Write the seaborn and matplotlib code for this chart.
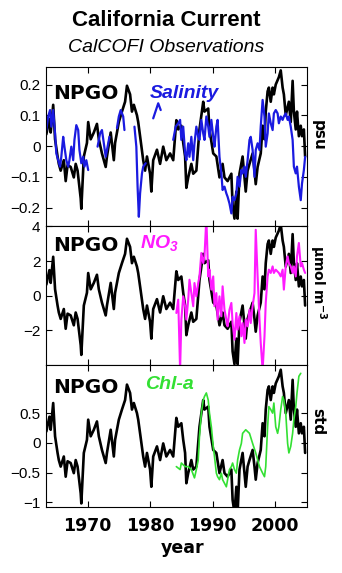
import numpy as np
import pandas as pd
import matplotlib
matplotlib.use("Agg")
import matplotlib.pyplot as plt
import seaborn as sns

# ---------------- data ----------------
npgo_year = [1963.4, 1963.9, 1964.1, 1964.5, 1964.8, 1965.2, 1965.4, 1965.7, 1966.2, 1966.5,
             1966.8, 1967.3, 1967.8, 1968.1, 1968.4, 1968.9, 1969.0, 1969.4, 1969.9, 1970.1,
             1970.5, 1971.0, 1971.5, 1971.8, 1972.3, 1972.9, 1973.1, 1973.7, 1974.2, 1974.4,
             1975.0, 1975.5, 1976.0, 1976.3, 1976.8, 1977.1, 1977.4, 1977.9, 1978.1, 1978.4,
             1978.9, 1979.2, 1979.5, 1980.0, 1980.2, 1980.5, 1981.1, 1981.6, 1982.1, 1982.6,
             1983.2, 1983.7, 1984.2, 1984.5, 1985.0, 1985.3, 1985.6, 1985.8, 1986.1, 1986.6,
             1986.9, 1987.4, 1987.9, 1988.5, 1988.7, 1989.3, 1989.5, 1990.1, 1990.6, 1991.1,
             1991.6, 1991.9, 1992.4, 1993.0, 1993.2, 1993.5, 1993.8, 1994.0, 1994.3, 1994.8,
             1995.3, 1995.6, 1995.9, 1996.4, 1996.7, 1996.9, 1997.2, 1997.7, 1998.0, 1998.3,
             1998.5, 1998.8, 1999.0, 1999.3, 1999.6, 1999.8, 2000.1, 2000.6, 2000.9, 2001.2,
             2001.4, 2001.7, 2002.2, 2002.5, 2002.8, 2003.0, 2003.3, 2003.5, 2003.8, 2004.1,
             2004.3, 2004.6, 2004.8]
npgo_std = [0.19, 0.44, 0.22, 0.67, 0.11, -0.17, -0.29, -0.40, -0.23, -0.57,
            -0.31, -0.34, -0.51, -0.29, -0.40, -0.85, -1.02, -0.17, 0.05, 0.39,
            0.11, 0.22, 0.36, 0.11, -0.12, -0.34, -0.17, 0.22, -0.23, 0.05,
            0.39, 0.56, 0.72, 0.98, 0.84, 0.56, 0.67, 0.50, 0.39, 0.16,
            -0.23, -0.40, -0.17, -0.45, -0.74, -0.23, -0.06, -0.29, -0.01, -0.23,
            -0.12, -0.23, 0.42, 0.27, 0.33, 0.05, -0.17, -0.68, -0.51, -0.29,
            -0.45, -0.40, 0.27, 0.72, 0.56, 0.61, 0.27, -0.12, -0.17, -0.51,
            -0.29, -0.51, -0.57, -0.45, -0.96, -1.18, -0.74, -1.18, -0.45, -0.17,
            -0.74, -0.40, -0.29, -0.12, -0.40, -0.62, -0.34, -0.12, 0.33, 0.11,
            0.56, 0.89, 0.95, 0.72, 0.95, 0.84, 1.00, 1.12, 1.23, 0.95,
            0.84, 0.50, 0.72, 0.39, 1.06, 0.56, 0.27, 0.56, 0.16, 0.33,
            0.16, 0.27, -0.17]
npgo_to_psu = 0.2
npgo_to_no3 = 3.35

nan = np.nan
sal_year = [1963.4, 1963.7, 1964.0, 1964.2, 1964.5, 1964.8, 1965.0, 1965.3, 1965.6, 1965.8,
            1966.1, 1966.3, 1966.6, 1966.9, 1967.1, 1967.4, 1967.7, 1967.9, 1968.2, 1968.5,
            1968.7, 1969.0, 1969.3, 1969.5, 1969.8, 1970.1, nan,
            1971.6, 1972.0, 1972.3, 1972.6, 1972.9, 1973.2, 1973.5, nan,
            1974.7, 1975.0, 1975.3, 1975.7, 1975.9, nan,
            1977.5, 1977.8, 1978.0, 1978.2, 1978.4, 1978.7, 1978.9, 1979.3, nan,
            1980.5, 1981.3, 1981.7, nan,
            1983.7, 1984.1, 1984.5, 1984.8, 1985.0, 1985.3, 1985.6, 1985.8, 1986.1, 1986.3,
            1986.6, 1986.9, 1987.1, 1987.4, 1987.7, 1987.9, 1988.2, 1988.5, 1988.7, 1989.0,
            1989.3, 1989.5, 1989.8, 1990.1, 1990.3, 1990.6, 1990.8, 1991.1, 1991.4, 1991.6,
            1991.9, 1992.2, 1992.4, 1992.7, 1993.0, 1993.2, 1993.5, 1993.8, 1994.0, 1994.3,
            1994.6, 1994.8, 1995.1, 1995.3, 1995.6, 1995.9, 1996.1, 1996.4, 1996.7, 1996.9,
            1997.2, 1997.5, 1997.7, 1998.0, 1998.3, 1998.5, 1998.8, 1999.0, 1999.3, 1999.6,
            1999.8, 2000.1, 2000.4, 2000.6, 2000.9, 2001.2, 2001.4, 2001.7, 2002.0, 2002.2,
            2002.5, 2002.8, 2003.0, 2003.3, 2003.5, 2003.8, 2004.1, 2004.3, 2004.6, 2004.8]
sal_psu = [0.052, 0.096, 0.117, 0.063, 0.117, 0.041, -0.024, -0.046, -0.067, -0.035,
           0.030, -0.002, -0.046, -0.067, -0.046, -0.002, -0.046, 0.020, 0.068, 0.052,
           -0.013, -0.056, -0.035, -0.067, -0.046, -0.078, nan,
           -0.002, 0.041, 0.052, 0.009, -0.035, -0.002, 0.030, nan,
           0.058, 0.096, 0.117, 0.096, 0.052, nan,
           0.063, -0.002, -0.132, -0.230, -0.154, -0.089, -0.067, -0.056, nan,
           0.090, 0.139, 0.117, nan,
           0.020, 0.063, 0.074, 0.085, 0.020, 0.063, -0.024, -0.046, 0.009, -0.035,
           0.030, -0.046, 0.009, 0.063, 0.030, 0.020, 0.085, 0.041, 0.020, 0.096,
           0.063, 0.030, 0.085, 0.030, -0.002, 0.063, 0.085, -0.035, -0.089, -0.143,
           -0.132, -0.154, -0.165, -0.187, -0.219, -0.165, -0.176, -0.154, -0.100, -0.132,
           -0.078, -0.089, -0.067, -0.100, -0.046, 0.020, 0.030, -0.013, -0.100, -0.013,
           0.009, -0.013, 0.063, 0.150, 0.096, -0.002, 0.041, 0.106, 0.074, 0.052,
           0.106, 0.117, 0.106, 0.074, 0.096, 0.085, 0.096, 0.106, 0.085, 0.096,
           0.063, 0.020, -0.067, -0.089, -0.067, -0.132, -0.176, -0.122, -0.078, -0.035]

no3_year = [1984.2, 1984.5, 1984.8, 1985.0, 1985.3, 1985.6, 1985.8, 1986.1, 1986.3, 1986.6,
            1986.9, 1987.1, 1987.4, 1987.7, 1987.9, 1988.2, 1988.5, 1988.7, 1989.0, 1989.3,
            1989.5, 1989.8, 1990.1, 1990.3, 1990.6, 1990.8, 1991.1, 1991.4, 1991.6, 1991.9,
            1992.2, 1992.4, 1992.7, 1993.0, 1993.2, 1993.5, 1993.8, 1994.0, 1994.3, 1994.6,
            1994.8, 1995.1, 1995.3, 1995.6, 1995.9, 1996.1, 1996.4, 1996.7, 1996.9, 1997.2,
            1997.5, 1997.7, 1998.0, 1998.3, 1998.5, 1998.8, 1999.0, 1999.3, 1999.6, 1999.8,
            2000.1, 2000.6, 2000.9, 2001.2, 2001.4, 2001.7, 2002.0, 2002.2, 2002.5, 2002.8,
            2003.0, 2003.3, 2003.5, 2003.8, 2004.1, 2004.3, 2004.6, 2004.8]
no3_umol = [-1.00, -0.23, -4.30, -1.38, -0.04, -0.61, -1.38, -0.23, 0.92, 0.15,
            -0.61, 0.73, -0.04, 0.73, 1.11, 2.46, 1.88, 2.27, 4.50, 1.11,
            1.50, 0.35, 1.11, -0.61, 0.15, -1.38, -0.04, -1.19, 0.54, -0.81,
            -1.38, -1.77, -0.81, -0.42, -1.58, -2.54, -1.00, -1.96, -1.19, -2.34,
            -1.58, -2.73, -1.38, -1.77, -0.81, -1.58, -0.61, 0.15, 3.80, 1.11,
            -1.38, -2.73, -4.30, -2.34, -0.42, 1.11, 1.50, 1.31, 1.69, 1.31,
            1.50, 1.31, 1.11, 1.50, 0.35, 1.69, 2.27, 1.88, 1.69, 1.31,
            1.69, 1.11, 2.27, 3.04, 1.69, 1.88, 1.50, 1.31]

chl_year = [1984.2, 1984.8, 1985.0, 1985.6, 1986.1, 1986.6, 1987.1, 1987.4, 1987.7, 1987.9,
            1988.2, 1988.5, 1988.7, 1989.0, 1989.3, 1989.5, 1989.8, 1990.1, 1990.3, 1990.6,
            1990.8, 1991.1, 1991.4, 1991.6, 1991.9, 1992.2, 1992.4, 1992.7, 1993.0, 1993.2,
            1993.5, 1993.8, 1994.0, 1994.3, 1994.6, 1994.8, 1995.3, 1995.9, 1996.4, 1996.9,
            1997.5, 1998.0, 1998.3, 1998.5, 1998.8, 1999.0, 1999.3, 1999.6, 1999.8, 2000.1,
            2000.4, 2000.6, 2000.9, 2001.2, 2001.4, 2001.7, 2002.0, 2002.2, 2002.5, 2002.8,
            2003.0, 2003.3, 2003.5, 2003.8, 2004.1]
chl_std = [-0.40, -0.45, -0.34, -0.40, -0.40, -0.45, -0.59, -0.45, -0.29, 0.11,
           0.50, 0.72, 0.78, 0.84, 0.72, 0.50, 0.27, -0.06, -0.23, -0.51,
           -0.57, -0.62, -0.51, -0.62, -0.68, -0.74, -0.62, -0.45, -0.40, -0.34,
           -0.45, -0.51, -0.29, -0.12, -0.01, 0.16, 0.22, 0.16, -0.01, -0.17,
           -0.40, -0.51, -0.57, -0.40, 0.27, 0.61, 0.56, 0.50, 0.67, 0.27,
           0.16, 0.27, 0.56, 0.78, 0.72, 0.50, -0.01, -0.17, -0.06, 0.16,
           0.39, 0.61, 0.84, 1.12, 1.17]

year_ticks = [1970, 1980, 1990, 2000]

# ---------------- style ----------------
sns.set_style("ticks")
plt.rcParams["font.family"] = ["Liberation Sans", "DejaVu Sans"]
plt.rcParams["axes.linewidth"] = 0.8
plt.rcParams["mathtext.fontset"] = "custom"
plt.rcParams["mathtext.bfit"] = "Liberation Sans:italic:bold"
plt.rcParams["mathtext.rm"] = "DejaVu Sans:bold"
plt.rcParams["mathtext.bf"] = "DejaVu Sans:bold"
plt.rcParams["mathtext.default"] = "bf"
for key in ("text.color", "axes.labelcolor", "xtick.color", "ytick.color",
            "axes.edgecolor"):
    plt.rcParams[key] = "black"

fig = plt.figure(figsize=(3.42, 5.73), dpi=100)
L, W = 46 / 342, 261 / 342
ax1 = fig.add_axes([L, 1 - 226 / 573, W, 159 / 573])
ax2 = fig.add_axes([L, 1 - 365 / 573, W, 139 / 573])
ax3 = fig.add_axes([L, 1 - 507 / 573, W, 142 / 573])

npgo = pd.DataFrame({"year": npgo_year, "std": npgo_std})
npgo["psu"] = npgo["std"] * npgo_to_psu
npgo["umol"] = npgo["std"] * npgo_to_no3

sal = pd.DataFrame({"year": sal_year, "psu": sal_psu})
sal["seg"] = sal["psu"].isna().cumsum()
sal = sal.dropna()
no3 = pd.DataFrame({"year": no3_year, "umol": no3_umol})
chl = pd.DataFrame({"year": chl_year, "std": chl_std})

BLACK_LW = 1.9
sns.lineplot(data=npgo, x="year", y="psu", ax=ax1, color="black", lw=BLACK_LW,
             estimator=None, legend=False)
sns.lineplot(data=sal, x="year", y="psu", units="seg", ax=ax1, color="#1a1ae0",
             lw=1.6, estimator=None, legend=False)
sns.lineplot(data=npgo, x="year", y="umol", ax=ax2, color="black", lw=BLACK_LW,
             estimator=None, legend=False)
sns.lineplot(data=no3, x="year", y="umol", ax=ax2, color="#ff1aff", lw=1.5,
             estimator=None, legend=False)
sns.lineplot(data=npgo, x="year", y="std", ax=ax3, color="black", lw=BLACK_LW,
             estimator=None, legend=False)
sns.lineplot(data=chl, x="year", y="std", ax=ax3, color="#33e033", lw=1.2,
             estimator=None, legend=False)

ax1.set_ylim(-0.26, 0.257)
ax2.set_ylim(-4, 4.02)
ax3.set_ylim(-1.08, 1.31)

ax1.set_yticks([-0.2, -0.1, 0, 0.1, 0.2])
ax1.set_yticklabels(["\u22120.2", "\u22120.1", "0", "0.1", "0.2"])
ax2.set_yticks([-2, 0, 2, 4])
ax2.set_yticklabels(["\u22122", "0", "2", "4"])
ax3.set_yticks([-1, -0.5, 0, 0.5])
ax3.set_yticklabels(["\u22121", "\u22120.5", "0", "0.5"])

for ax in (ax1, ax2, ax3):
    ax.set_xlim(1963.35, 2005.1)
    ax.set_xticks(year_ticks)
    ax.set_xlabel("")
    ax.set_ylabel("")
    ax.tick_params(direction="in", top=True, right=True, length=4, width=0.8,
                   labelsize=11, pad=4, colors="black")
    for s in ax.spines.values():
        s.set_visible(True)
        s.set_linewidth(0.8)
        s.set_color("black")
for ax in (ax1, ax2):
    ax.tick_params(labelbottom=False)
ax3.set_xticklabels([str(y) for y in year_ticks], fontfamily="DejaVu Sans",
                    fontweight="bold", fontsize=12.5)
ax3.tick_params(axis="x", pad=7)

# panel annotations
for ax, yf in ((ax1, 0.833), (ax2, 0.86), (ax3, 0.84)):
    ax.text(0.027, yf, "NPGO", transform=ax.transAxes, ha="left", va="center",
            fontfamily="DejaVu Sans", fontweight="bold", fontsize=14.5, color="black")
ax1.text(0.398, 0.833, "Salinity", transform=ax1.transAxes, ha="left", va="center",
         fontweight="bold", fontstyle="italic", fontsize=14, color="#1a1ae0")
ax2.text(0.36, 0.875, r"$\mathbfit{NO}_{\mathbfit{3}}$", transform=ax2.transAxes,
         ha="left", va="center", fontsize=14, color="#ff1aff")
ax3.text(0.379, 0.86, "Chl-a", transform=ax3.transAxes, ha="left", va="center",
         fontweight="bold", fontstyle="italic", fontsize=14, color="#33e033")

# right-side unit labels
ax1.text(1.042, 0.572, "psu", transform=ax1.transAxes, rotation=270, ha="center",
         va="center", fontfamily="DejaVu Sans", fontweight="bold", fontsize=11)
ax2.text(1.042, 0.597, "\u03bcmol m$^{-3}$", transform=ax2.transAxes, rotation=270,
         ha="center", va="center", fontfamily="DejaVu Sans", fontweight="bold",
         fontsize=10)
ax3.text(1.042, 0.6, "std", transform=ax3.transAxes, rotation=270, ha="center",
         va="center", fontfamily="DejaVu Sans", fontweight="bold", fontsize=11)

fig.text(166 / 342, 1 - 21 / 573, "California Current", ha="center", va="center",
         fontweight="bold", fontsize=16, color="black")
fig.text(166 / 342, 1 - 47 / 573, "CalCOFI Observations", ha="center", va="center",
         fontstyle="italic", fontsize=14, color="black")
fig.text(183 / 342, 1 - 548 / 573, "year", ha="center", va="center",
         fontfamily="DejaVu Sans", fontweight="bold", fontsize=12.5, color="black")

fig.savefig("out.png", dpi=100)
